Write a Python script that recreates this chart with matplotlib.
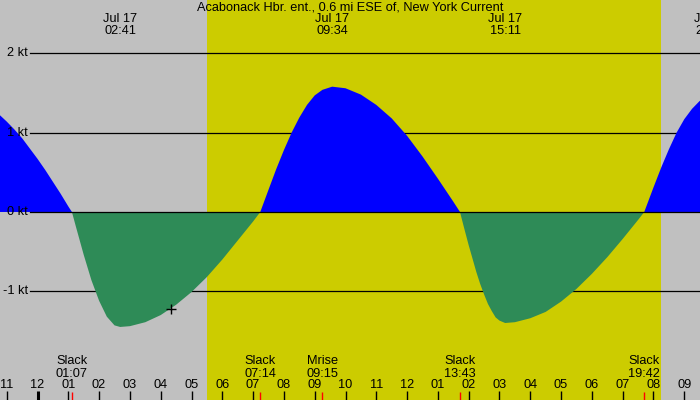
import matplotlib
matplotlib.use("Agg")
import matplotlib.pyplot as plt

plt.rcParams['font.family'] = ['Liberation Sans', 'DejaVu Sans']
plt.rcParams['font.size'] = 9.2

# ---------------- data (hours from midnight Jul 17, knots) ----------------
hours = [-1.22, -1.0, -0.75, -0.5, -0.25, 0.0, 0.25, 0.5, 0.75, 1.0, 1.117,
         1.25, 1.5, 1.75, 2.0, 2.25, 2.5, 2.683,
         3.0, 3.5, 4.0, 4.5, 5.0, 5.5, 6.0, 6.5, 7.0, 7.233,
         7.5, 7.75, 8.0, 8.25, 8.5, 8.75, 9.0, 9.25, 9.567,
         10.0, 10.5, 11.0, 11.5, 12.0, 12.5, 13.0, 13.5, 13.717,
         13.85, 14.0, 14.125, 14.25, 14.375, 14.5, 14.625, 14.75, 14.875, 15.0, 15.183,
         15.5, 16.0, 16.5, 17.0, 17.5, 18.0, 18.5, 19.0, 19.5, 19.7,
         20.0, 20.25, 20.5, 20.75, 21.0, 21.25, 21.5, 21.75]
knots = [1.22, 1.14, 1.04, 0.93, 0.80, 0.67, 0.53, 0.38, 0.23, 0.07, 0.0,
         -0.19, -0.54, -0.86, -1.12, -1.32, -1.43, -1.45,
         -1.44, -1.39, -1.30, -1.17, -1.01, -0.82, -0.60, -0.36, -0.12, 0.0,
         0.28, 0.54, 0.78, 1.00, 1.19, 1.35, 1.47, 1.54, 1.58,
         1.56, 1.48, 1.35, 1.18, 0.96, 0.70, 0.42, 0.13, 0.0,
         -0.20, -0.42, -0.59, -0.76, -0.91, -1.04, -1.16, -1.25, -1.33, -1.37, -1.40,
         -1.39, -1.34, -1.26, -1.13, -0.97, -0.78, -0.57, -0.34, -0.10, 0.0,
         0.31, 0.56, 0.79, 1.00, 1.17, 1.30, 1.40, 1.44]

max_hours = [2.683, 9.567, 15.183, 21.88]
max_labels = ["02:41", "09:34", "15:11", "21:53"]

event_hours = [1.117, 7.233, 9.25, 13.717, 19.7]
event_names = ["Slack", "Slack", "Mrise", "Slack", "Slack"]
event_labels = ["01:07", "07:14", "09:15", "13:43", "19:42"]

marker_hour, marker_knots = 4.334, -1.22

sunrise, sunset = 5.5, 20.24
kt_levels = [2, 1, 0, -1]
hour_ticks = list(range(-1, 22))

title = "Acabonack Hbr. ent., 0.6 mi ESE of, New York Current"

# ---------------- plot ----------------
fig = plt.figure(figsize=(7, 4), dpi=100, facecolor='#c0c0c0')
ax = fig.add_axes([0, 0, 1, 1])
ax.axis('off')
ax.set_xlim(-1.218, 21.51)
ax.set_ylim(-2.371, 2.673)

ax.axvspan(sunrise, sunset, color='#cccc00', lw=0, zorder=0)

for lv in kt_levels:
    ax.axhline(lv, xmin=30/700, xmax=1, color='black', lw=0.9, zorder=3 if lv == 0 else 1)
    ax.text(28/700, lv, f"{lv} kt", transform=ax.get_yaxis_transform(),
            ha='right', va='center', zorder=4)

ax.fill_between(hours, knots, 0, where=[k >= 0 for k in knots], color='#0000ff',
                lw=0, zorder=2, interpolate=True)
ax.fill_between(hours, knots, 0, where=[k <= 0 for k in knots], color='#2e8b57',
                lw=0, zorder=2, interpolate=True)

ax.plot(marker_hour, marker_knots, marker='+', color='black', ms=7, mew=1, zorder=5)

xt = ax.get_xaxis_transform()
ax.text(0.5, 1 - 8/400, title, transform=ax.transAxes, ha='center', va='center')
for h, lab in zip(max_hours, max_labels):
    ax.text(h, 1 - 19/400, "Jul 17", transform=xt, ha='center', va='center')
    ax.text(h, 1 - 31/400, lab, transform=xt, ha='center', va='center')

for h, name, lab in zip(event_hours, event_names, event_labels):
    ax.text(h, 1 - 361/400, name, transform=xt, ha='center', va='center')
    ax.text(h, 1 - 374/400, lab, transform=xt, ha='center', va='center')
    ax.vlines(h, 0, 8/400, transform=xt, color='red', lw=1)

for h in hour_ticks:
    lab = "%02d" % ((h - 1) % 12 + 1)
    ax.text(h, 1 - 385/400, lab, transform=xt, ha='center', va='center')
    ax.vlines(h, 0, 9/400, transform=xt, color='black', lw=2.2 if h == 0 else 1)

fig.savefig('out.png', dpi=100, facecolor=fig.get_facecolor())
